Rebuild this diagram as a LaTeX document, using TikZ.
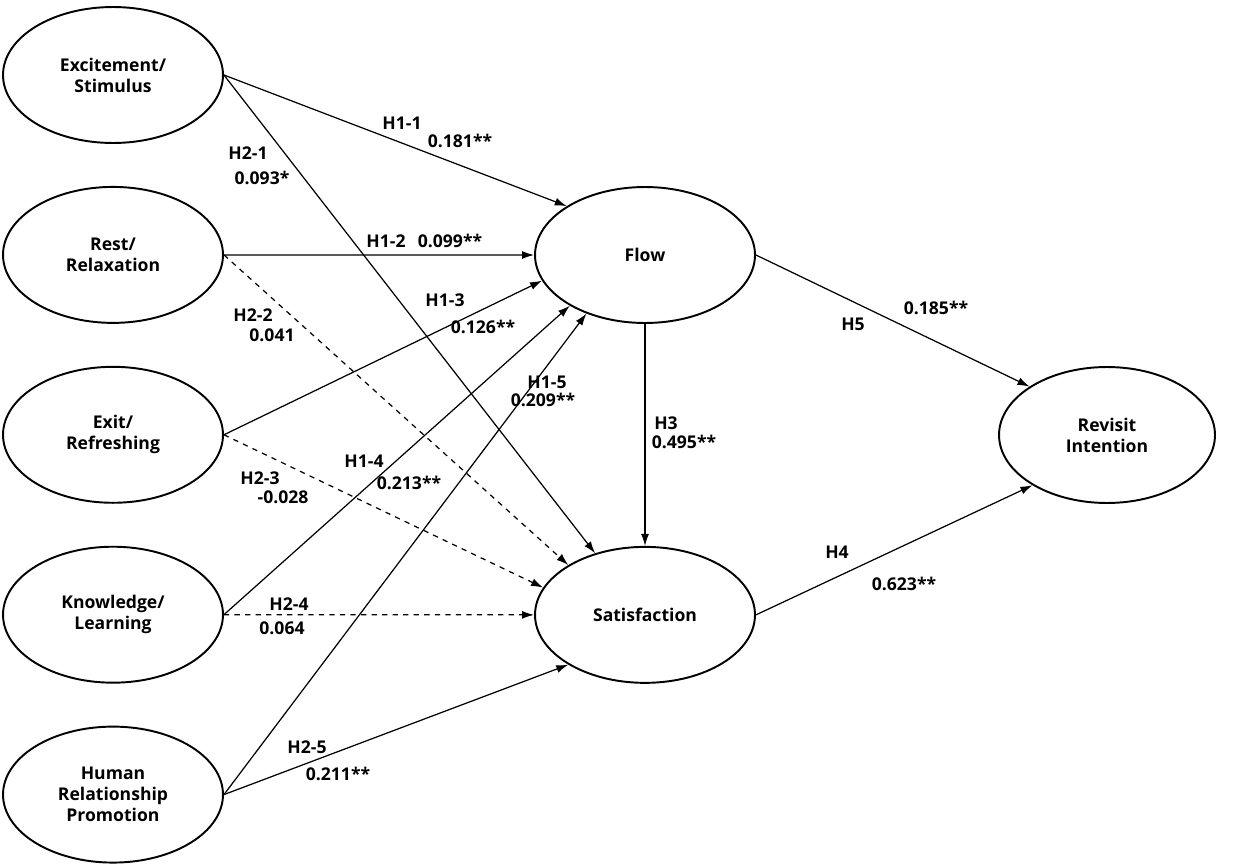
\documentclass[tikz,border=0pt]{standalone}
\usepackage{fontspec}
\setmainfont{Open Sans}
\usetikzlibrary{arrows.meta,positioning,shapes.geometric}

\begin{document}
\begin{tikzpicture}[
    x=0.02cm, y=-0.02cm,
    font=\bfseries\fontsize{10}{12}\selectfont, >={Latex[length=2.4mm,width=1.6mm]}, node distance=8.4mm,
    latent/.style={draw, ellipse, line width=1.1pt, minimum width=4.4cm, minimum height=2.72cm, align=center, inner sep=0pt},
    lnk/.style={->, line width=0.7pt},
    nslnk/.style={lnk, dashed},
    lab/.style={inner sep=0pt}]
    \useasboundingbox (0,0) rectangle (1236,865);
    % constructs
    \node[latent] (exc) at (113,75) {Excitement/\\Stimulus};
    \node[latent, below=of exc]   (rest)  {Rest/\\Relaxation};
    \node[latent, below=of rest]  (exit)  {Exit/\\Refreshing};
    \node[latent, below=of exit]  (know)  {Knowledge/\\Learning};
    \node[latent, below=of know]  (human) {Human\\Relationship\\Promotion};
    \node[latent] (flow) at (645,255) {Flow};
    \node[latent, below=4.44cm of flow] (sat) {Satisfaction};
    \node[latent, minimum width=4.32cm] (rev) at (1107,435) {Revisit\\Intention};
    % paths
    \draw[lnk]   (exc.east)   -- (flow.148);
    \draw[lnk]   (exc.east)   -- (sat.129);
    \draw[lnk]   (rest.east)  -- (flow.west);
    \draw[nslnk] (rest.east)  -- (sat.147);
    \draw[lnk]   (exit.east)  -- (flow.194);
    \draw[nslnk] (exit.east)  -- (sat.165);
    \draw[lnk]   (know.east)  -- (flow.214);
    \draw[nslnk] (know.east)  -- (sat.west);
    \draw[lnk]   (human.east) -- (flow.225);
    \draw[lnk]   (human.east) -- (sat.213);
    \draw[lnk]   (flow.south) -- (sat.north);
    \draw[lnk]   (flow.east)  -- (rev.148);
    \draw[lnk]   (sat.east)   -- (rev.214);
    % hypotheses and coefficients
    \node[lab] (h11) at (402,123) {H1-1};   \node[lab] (c11) at (460,141) {0.181**};
    \node[lab] (h21) at (248,153) {H2-1};   \node[lab] (c21) at (262,178) {0.093*};
    \node[lab] (h12) at (386,241) {H1-2};   \node[lab] (c12) at (450,241) {0.099**};
    \node[lab] (h13) at (445,300) {H1-3};   \node[lab] (c13) at (483,327) {0.126**};
    \node[lab] (h22) at (253,315) {H2-2};   \node[lab] (c22) at (272,335) {0.041};
    \node[lab] (h15) at (547,382) {H1-5};   \node[lab] (c15) at (543,400) {0.209**};
    \node[lab] (h14) at (364,461) {H1-4};   \node[lab] (c14) at (409,483) {0.213**};
    \node[lab] (h23) at (260,478) {H2-3};   \node[lab] (c23) at (283,497) {-0.028};
    \node[lab] (h24) at (289,604) {H2-4};   \node[lab] (c24) at (282,628) {0.064};
    \node[lab] (h25) at (307,747) {H2-5};   \node[lab] (c25) at (338,774) {0.211**};
    \node[lab] (h3)  at (666,423) {H3};     \node[lab] (c3)  at (684,442) {0.495**};
    \node[lab] (h5)  at (853,324) {H5};     \node[lab] (c5)  at (936,308) {0.185**};
    \node[lab] (h4)  at (837,552) {H4};     \node[lab] (c4)  at (904,584) {0.623**};
\end{tikzpicture}
\end{document}
